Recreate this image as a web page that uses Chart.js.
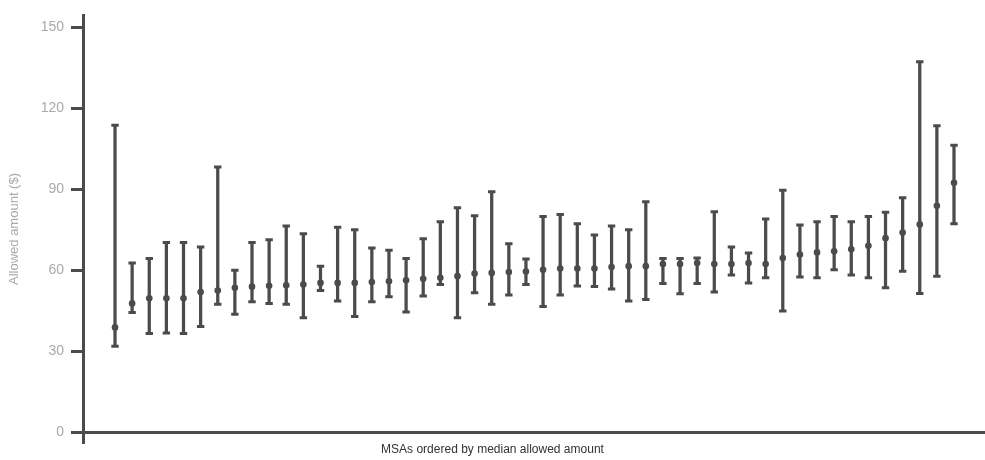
<!DOCTYPE html>
<html>
<head>
<meta charset="utf-8">
<script src="https://cdn.jsdelivr.net/npm/chart.js@4.4.1/dist/chart.umd.min.js"></script>
<style>
  html, body { margin: 0; padding: 0; background: #fff; }
  #wrap { width: 985px; height: 460px; position: relative; }
</style>
</head>
<body>
<div id="wrap"><canvas id="grafikMsa"></canvas></div>
<script>
// MSAs, ordered by median allowed amount
const MSA = [1, 2, 3, 4, 5, 6, 7, 8, 9, 10, 11, 12, 13, 14, 15, 16, 17, 18, 19, 20,
             21, 22, 23, 24, 25, 26, 27, 28, 29, 30, 31, 32, 33, 34, 35, 36, 37, 38, 39, 40,
             41, 42, 43, 44, 45, 46, 47, 48, 49, 50];

const MEDIAN = [38.8, 47.7, 49.6, 49.6, 49.6, 51.9, 52.5, 53.5, 53.9, 54.2,
                54.4, 54.7, 55.3, 55.3, 55.3, 55.6, 55.9, 56.3, 56.8, 57.2,
                57.8, 58.8, 59.0, 59.3, 59.5, 60.2, 60.6, 60.6, 60.6, 61.2,
                61.5, 61.5, 62.3, 62.3, 62.7, 62.3, 62.3, 62.7, 62.3, 64.5,
                65.8, 66.6, 67.0, 67.8, 69.1, 71.9, 74.0, 77.0, 83.9, 92.4];

const LOW = [31.8, 44.3, 36.5, 36.7, 36.5, 39.1, 47.4, 43.7, 48.3, 47.7,
             47.4, 42.4, 52.5, 48.6, 42.8, 48.3, 50.2, 44.5, 50.4, 54.7,
             42.4, 51.6, 47.4, 50.8, 54.7, 46.5, 50.8, 54.1, 54.0, 53.0,
             48.6, 49.1, 55.1, 51.3, 55.1, 51.9, 58.2, 55.3, 57.2, 44.9,
             57.5, 57.2, 60.2, 58.2, 57.2, 53.5, 59.6, 51.4, 57.8, 77.2];

const HIGH = [113.8, 62.7, 64.3, 70.3, 70.3, 68.6, 98.3, 60.0, 70.3, 71.3,
              76.4, 73.5, 61.5, 75.9, 75.0, 68.2, 67.4, 64.3, 71.7, 78.0,
              83.2, 80.2, 89.1, 69.8, 64.2, 79.9, 80.7, 77.2, 73.1, 76.4,
              75.0, 85.4, 64.3, 64.3, 64.5, 81.7, 68.6, 66.4, 79.0, 89.7,
              76.8, 78.0, 79.9, 78.0, 79.9, 81.5, 86.9, 137.3, 113.6, 106.3];

const Y_TICKS = [0, 30, 60, 90, 120, 150];

const INK = '#4b4b4b';
const FADED = '#a9a9a9';

const ctx = document.getElementById('grafikMsa').getContext('2d');

new Chart(ctx, {
    type: 'scatter',
    data: {
        datasets: [
            {
                // whisker: low..high range
                type: 'bar',
                label: 'Range',
                data: MSA.map((m, i) => ({ x: m, y: [LOW[i], HIGH[i]] })),
                backgroundColor: INK,
                borderWidth: 0,
                barThickness: 2.6,
                grouped: false,
                order: 3
            },
            {
                label: 'Caps',
                data: MSA.map((m, i) => ({ x: m, y: LOW[i] }))
                    .concat(MSA.map((m, i) => ({ x: m, y: HIGH[i] }))),
                pointStyle: 'line',
                pointRadius: 3.7,
                borderColor: INK,
                borderWidth: 3,
                order: 2
            },
            {
                label: 'Median',
                data: MSA.map((m, i) => ({ x: m, y: MEDIAN[i] })),
                pointStyle: 'circle',
                pointRadius: 3.3,
                backgroundColor: INK,
                borderColor: INK,
                borderWidth: 0,
                order: 1
            }
        ]
    },
    options: {
        responsive: true,
        maintainAspectRatio: false,
        animation: false,
        layout: { autoPadding: false, padding: { top: 12, right: 0, left: 0, bottom: 0 } },
        plugins: {
            legend: { display: false },
            tooltip: { enabled: false },
            title: {
                display: true,
                position: 'bottom',
                text: 'MSAs ordered by median allowed amount',
                color: '#333',
                font: { family: 'Liberation Sans, Arial, sans-serif', size: 12, weight: 'normal' },
                padding: { top: 0, bottom: 3 }
            }
        },
        scales: {
            x: {
                type: 'linear',
                display: false,
                offset: false,
                min: -0.87,
                max: 51.81
            },
            y: {
                min: -3.93,
                max: 154.5,
                afterFit: function(scale) { scale.width = 83; },
                afterBuildTicks: function(scale) {
                    scale.ticks = Y_TICKS.map(v => ({ value: v }));
                },
                border: { display: true, color: INK, width: 3 },
                grid: {
                    drawOnChartArea: true,
                    color: function(c) { return c.tick && c.tick.value === 0 ? INK : 'rgba(0,0,0,0)'; },
                    lineWidth: 3,
                    tickColor: INK,
                    tickWidth: 3,
                    tickLength: 12
                },
                ticks: {
                    color: FADED,
                    padding: 7,
                    font: { family: 'Liberation Sans, Arial, sans-serif', size: 14 }
                },
                title: {
                    display: true,
                    text: 'Allowed amount ($)',
                    color: FADED,
                    padding: { top: 7, bottom: 0 },
                    font: { family: 'Liberation Sans, Arial, sans-serif', size: 13 }
                }
            }
        }
    }
});
</script>
</body>
</html>
